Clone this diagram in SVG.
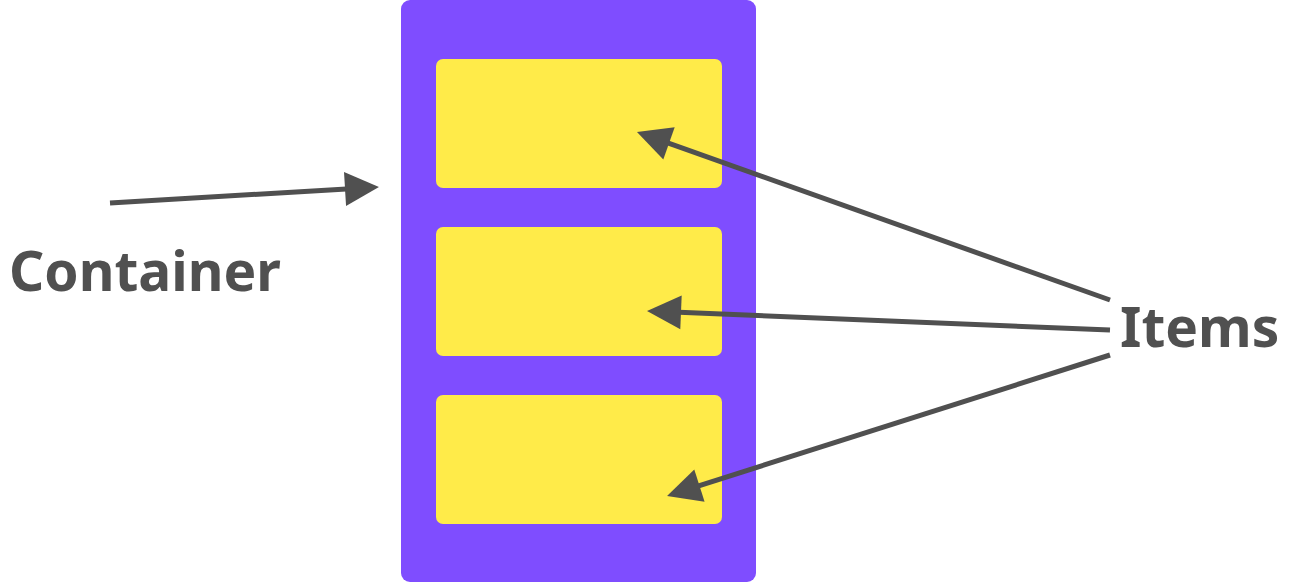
<svg xmlns="http://www.w3.org/2000/svg" width="1289" height="582" viewBox="0 0 1289 582">
<style>
.item{fill:#FFEB49}
.conn{stroke:#505050;stroke-width:5;fill:none;marker-end:url(#ah)}
.lbl{font-family:"Noto Sans","Open Sans",sans-serif;font-weight:bold;font-size:55px;fill:#505050}
</style>
<defs>
<marker id="ah" markerUnits="userSpaceOnUse" markerWidth="34" markerHeight="34" refX="14" refY="17" orient="auto" overflow="visible">
<path d="M0,0 L34,17 L0,34 z" fill="#505050"/>
</marker>
</defs>
<rect width="1289" height="582" fill="#fff"/>
<g id="container"><rect x="401" y="0" width="355" height="582" rx="9" fill="#7F4DFF"/></g>
<g id="item1"><rect class="item" x="436" y="59" width="286" height="129" rx="7"/></g>
<g id="item2"><rect class="item" x="436" y="227" width="286" height="129" rx="7"/></g>
<g id="item3"><rect class="item" x="436" y="395" width="286" height="129" rx="7"/></g>
<g id="label-container"><text class="lbl" x="9" y="291">Container</text></g>
<g id="label-items"><text class="lbl" x="1120" y="347">Items</text></g>
<g id="connectors">
<line class="conn" x1="110" y1="203" x2="359" y2="188.2"/>
<line class="conn" x1="1110" y1="300" x2="655.8" y2="138.7"/>
<line class="conn" x1="1110" y1="330" x2="667" y2="311.8"/>
<line class="conn" x1="1110" y1="355" x2="686.1" y2="489.9"/>
</g>
</svg>
